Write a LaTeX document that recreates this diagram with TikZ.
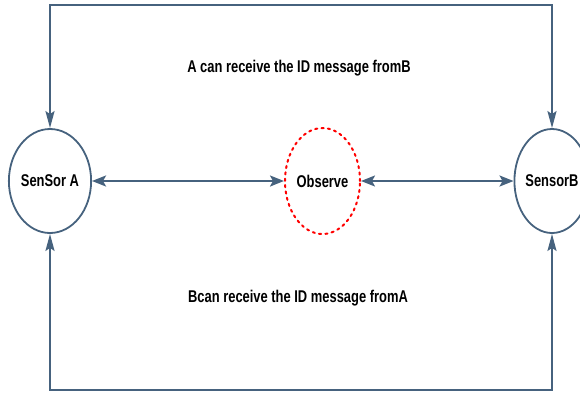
\documentclass[tikz,border=0pt]{standalone}
\usepackage{fontspec}
\setmainfont{Liberation Sans}
\newfontfamily\narrowsans[FakeStretch=0.76]{Liberation Sans}
\usetikzlibrary{arrows.meta,shapes.geometric}
\definecolor{linkblue}{HTML}{46627E}
\tikzset{
  labelfont/.style={font=\narrowsans\bfseries\fontsize{17}{19}\selectfont},
  sensor/.style={draw=linkblue, line width=1.8pt, ellipse, minimum width=75pt,
    minimum height=104pt, inner sep=0pt, labelfont},
  watch/.style={draw=red, line width=2pt, dash pattern=on 2.2pt off 4.2pt, line cap=round,
    ellipse, minimum width=75pt, minimum height=106pt, inner sep=0pt, labelfont},
  caption/.style={labelfont, inner sep=0pt},
  hlink/.style={draw=linkblue, line width=2.2pt,
    {Stealth[length=14pt,width=11pt,inset=3pt]}-{Stealth[length=14pt,width=11pt,inset=3pt]}},
  vlink/.style={draw=linkblue, line width=2.2pt,
    {Stealth[length=17pt,width=9pt,inset=3pt]}-{Stealth[length=17pt,width=9pt,inset=3pt]}}
}
\begin{document}
\begin{tikzpicture}[x=1pt, y=-1pt]
  \useasboundingbox (0,0) rectangle (580,392);
  % sensors and observer
  \node[sensor] (a) at (50,181) {SenSor A};
  \node[sensor] (b) at (552,181) {SensorB};
  \node[watch] (o) at (322.5,181) {Observe};
  % message captions
  \node[caption] (top) at (299,68) {A can receive the ID message fromB};
  \node[caption] (bottom) at (298,298) {Bcan receive the ID message fromA};
  % corners of the outer routes
  \coordinate (tl) at (50,5);
  \coordinate (tr) at (552,5);
  \coordinate (bl) at (50,390);
  \coordinate (br) at (552,390);
  % links
  \draw[hlink] (a.east) -- (o.west);
  \draw[hlink] (o.east) -- (b.west);
  \draw[vlink, line join=miter] (a.north) -- (tl) -- (tr) -- (b.north);
  \draw[vlink, line join=miter] (a.south) -- (bl) -- (br) -- (b.south);
\end{tikzpicture}
\end{document}
